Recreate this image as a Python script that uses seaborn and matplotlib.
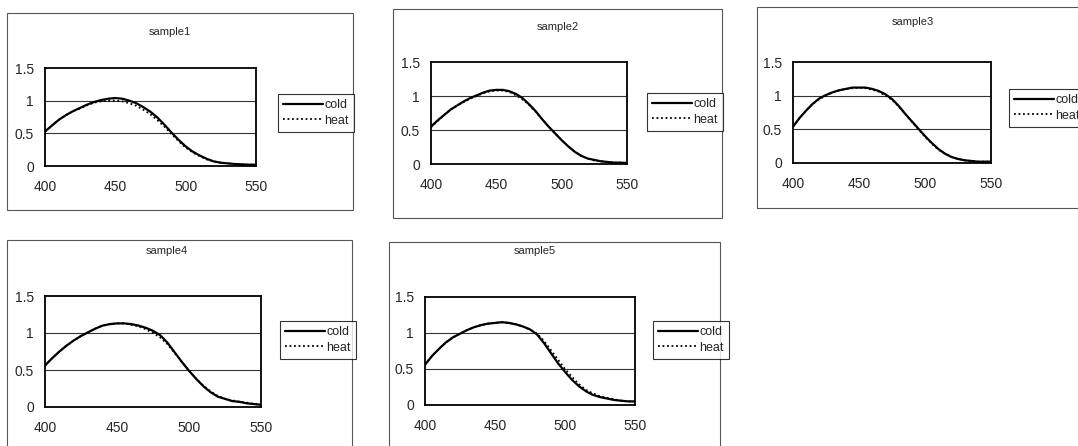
import numpy as np
import pandas as pd
import matplotlib
matplotlib.use("Agg")
import matplotlib.pyplot as plt
from matplotlib.patches import Rectangle
import seaborn as sns

# Datos (longitud de onda y espectros)
wavelength = list(range(400, 551, 5))

s1_cold = [0.53, 0.62, 0.71, 0.78, 0.84, 0.89, 0.94, 0.98, 1.01, 1.03, 1.04, 1.03, 1.00, 0.96, 0.90, 0.83,
           0.74, 0.63, 0.51, 0.40, 0.30, 0.22, 0.16, 0.11, 0.07, 0.05, 0.04, 0.03, 0.025, 0.02, 0.02]
s1_heat = [0.52, 0.62, 0.71, 0.78, 0.84, 0.88, 0.93, 0.97, 0.99, 1.00, 1.00, 0.99, 0.96, 0.92, 0.86, 0.79,
           0.70, 0.60, 0.49, 0.38, 0.28, 0.21, 0.15, 0.10, 0.07, 0.05, 0.04, 0.03, 0.02, 0.02, 0.02]
s2_cold = [0.55, 0.64, 0.72, 0.80, 0.86, 0.92, 0.97, 1.01, 1.05, 1.08, 1.09, 1.09, 1.07, 1.03, 0.97, 0.88,
           0.78, 0.66, 0.55, 0.45, 0.35, 0.26, 0.18, 0.12, 0.08, 0.06, 0.04, 0.03, 0.02, 0.02, 0.015]
s2_heat = [0.54, 0.63, 0.72, 0.80, 0.86, 0.91, 0.96, 1.00, 1.04, 1.07, 1.08, 1.08, 1.06, 1.01, 0.95, 0.87,
           0.77, 0.66, 0.55, 0.45, 0.35, 0.26, 0.18, 0.12, 0.08, 0.05, 0.04, 0.03, 0.02, 0.02, 0.015]
s3_cold = [0.54, 0.67, 0.78, 0.88, 0.96, 1.01, 1.05, 1.08, 1.10, 1.12, 1.12, 1.12, 1.10, 1.07, 1.02, 0.95,
           0.85, 0.73, 0.62, 0.51, 0.40, 0.30, 0.21, 0.14, 0.09, 0.06, 0.04, 0.03, 0.02, 0.02, 0.02]
s3_heat = [0.54, 0.67, 0.78, 0.88, 0.95, 1.00, 1.05, 1.08, 1.10, 1.11, 1.12, 1.11, 1.09, 1.06, 1.00, 0.94,
           0.84, 0.73, 0.61, 0.50, 0.39, 0.29, 0.20, 0.14, 0.09, 0.06, 0.04, 0.03, 0.02, 0.02, 0.02]
s4_cold = [0.56, 0.66, 0.75, 0.83, 0.90, 0.96, 1.01, 1.06, 1.10, 1.12, 1.13, 1.13, 1.12, 1.10, 1.07, 1.03,
           0.97, 0.87, 0.74, 0.61, 0.49, 0.38, 0.28, 0.20, 0.14, 0.11, 0.08, 0.07, 0.05, 0.04, 0.03]
s4_heat = [0.56, 0.66, 0.75, 0.83, 0.90, 0.96, 1.01, 1.06, 1.10, 1.12, 1.13, 1.13, 1.11, 1.09, 1.05, 1.00,
           0.94, 0.85, 0.73, 0.61, 0.49, 0.38, 0.29, 0.21, 0.15, 0.11, 0.09, 0.07, 0.06, 0.04, 0.03]
s5_cold = [0.56, 0.68, 0.78, 0.87, 0.94, 0.99, 1.04, 1.08, 1.11, 1.13, 1.14, 1.15, 1.14, 1.12, 1.09, 1.05,
           0.98, 0.86, 0.72, 0.58, 0.46, 0.35, 0.26, 0.19, 0.14, 0.11, 0.09, 0.07, 0.06, 0.05, 0.05]
s5_heat = [0.56, 0.68, 0.78, 0.87, 0.94, 0.99, 1.04, 1.08, 1.11, 1.13, 1.14, 1.15, 1.14, 1.12, 1.09, 1.05,
           0.99, 0.89, 0.76, 0.63, 0.50, 0.39, 0.29, 0.21, 0.16, 0.12, 0.10, 0.08, 0.06, 0.05, 0.05]

titles = ["sample1", "sample2", "sample3", "sample4", "sample5"]
cold = [s1_cold, s2_cold, s3_cold, s4_cold, s5_cold]
heat = [s1_heat, s2_heat, s3_heat, s4_heat, s5_heat]
x_ticks = [400, 450, 500, 550]
y_ticks = [0, 0.5, 1, 1.5]
y_labels = ["0", "0.5", "1", "1.5"]

# Posiciones en píxeles: marco exterior, área de trazado, leyenda, título
W, H = 1078, 446
frames = [(7, 13, 353, 210), (393, 9, 722, 218), (757, 7, 1090, 208), (7, 240, 352, 470), (389, 242, 720, 470)]
plots = [(45, 68, 256, 166), (431, 62, 627, 164), (793, 62, 991, 163), (45, 296, 261, 407), (425, 297, 635, 405)]
legends = [(278, 94), (647, 93), (1009, 89), (280, 321), (653, 321)]
title_pos = [(170, 32), (558, 27), (913, 22), (167, 251), (535, 251)]

sns.set_style("white")
plt.rcParams['font.family'] = ['Liberation Sans', 'DejaVu Sans']

fig = plt.figure(figsize=(W / 100, H / 100), dpi=100)
fig.patch.set_facecolor("white")

for i in range(5):
    # Marco exterior de cada gráfica
    fx0, fy0, fx1, fy1 = frames[i]
    fig.patches.append(Rectangle((fx0 / W, 1 - fy1 / H), (fx1 - fx0) / W, (fy1 - fy0) / H,
                                 transform=fig.transFigure, fill=False, edgecolor="#555555", lw=0.8))

    px0, py0, px1, py1 = plots[i]
    ax = fig.add_axes([px0 / W, 1 - py1 / H, (px1 - px0) / W, (py1 - py0) / H])
    df = pd.DataFrame({"wl": wavelength, "cold": cold[i], "heat": heat[i]})
    sns.lineplot(data=df, x="wl", y="cold", ax=ax, color="black", lw=1.6, label="cold")
    sns.lineplot(data=df, x="wl", y="heat", ax=ax, color="black", lw=1.3, linestyle=(0, (1, 1.5)), label="heat")

    ax.set_xlim(400, 550)
    ax.set_ylim(0, 1.5)
    ax.set_xticks(x_ticks)
    ax.set_xticklabels([str(t) for t in x_ticks], fontsize=10)
    ax.set_yticks(y_ticks)
    ax.set_yticklabels(y_labels, fontsize=10)
    ax.set_xlabel("")
    ax.set_ylabel("")
    # Líneas de cuadrícula horizontales
    for t in [0.5, 1.0]:
        ax.axhline(t, color="#333333", lw=0.8, zorder=0)
    for s in ax.spines.values():
        s.set_visible(True)
        s.set_color("black")
        s.set_linewidth(1.3)
    ax.tick_params(axis="both", length=3, direction="out", color="black")
    ax.tick_params(axis="x", pad=7)
    ax.tick_params(axis="y", pad=5)

    ax.get_legend().remove()
    lx, ly = legends[i]
    leg = fig.legend(*ax.get_legend_handles_labels(), loc="upper left",
                     bbox_to_anchor=(lx / W, 1 - ly / H), bbox_transform=fig.transFigure,
                     borderaxespad=0, fontsize=9, frameon=True, fancybox=False,
                     handlelength=3.2, handletextpad=0.1, borderpad=0.4, labelspacing=0.3)
    leg.get_frame().set_edgecolor("black")
    leg.get_frame().set_linewidth(0.8)

    tx, ty = title_pos[i]
    fig.text(tx / W, 1 - ty / H, titles[i], ha="center", va="center", fontsize=8)

fig.savefig("out.png", dpi=100)
